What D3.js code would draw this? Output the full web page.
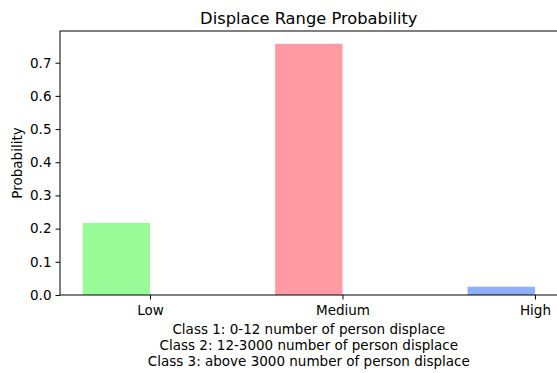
<!DOCTYPE html>
<html>
<head>
<meta charset="utf-8">
<script src="https://cdn.jsdelivr.net/npm/d3@7"></script>
<style>
  body { margin: 0; background: #fff; }
  text { font-family: "DejaVu Sans", sans-serif; fill: #000; }
</style>
</head>
<body>
<svg width="557" height="373"></svg>
<script>
var categories = ['Low', 'Medium', 'High'];
var probs = [0.217, 0.757, 0.025];
var colors = ['#98fb98', '#ff9aa2', '#8fb0f7'];
var yTicks = [0, 0.1, 0.2, 0.3, 0.4, 0.5, 0.6, 0.7];
var notes = [
  'Class 1: 0-12 number of person displace',
  'Class 2: 12-3000 number of person displace',
  'Class 3: above 3000 number of person displace'
];

var svg = d3.select('svg');
var margin = {left: 60, top: 31};
var innerHeight = 264;
var barW = 0.35;

// x positions are category index, bars sit left of the tick (edge aligned)
var xscale = d3.scaleLinear()
  .domain([-0.4675, 2.1175])
  .range([0, 497.6]);
var yscale = d3.scaleLinear()
  .domain([0, 0.7955])
  .range([innerHeight, 0]);

var g = svg.append('g').attr('transform', `translate(${margin.left},${margin.top})`);

g.selectAll('rect.bar').data(probs)
  .enter()
  .append('rect')
  .attr('class', 'bar')
  .attr('x', (d, i) => xscale(i - barW))
  .attr('y', d => yscale(d))
  .attr('width', xscale(barW) - xscale(0))
  .attr('height', d => innerHeight - yscale(d))
  .attr('fill', (d, i) => colors[i]);

// frame
g.append('rect')
  .attr('x', 0).attr('y', 0)
  .attr('width', 497.6).attr('height', innerHeight)
  .attr('fill', 'none').attr('stroke', '#000').attr('stroke-width', 1);

var yaxis = g.append('g')
  .call(d3.axisLeft(yscale).tickValues(yTicks).tickFormat(d3.format('.1f')).tickSize(4.5).tickPadding(4));
var xaxis = g.append('g')
  .attr('transform', `translate(0,${innerHeight})`)
  .call(d3.axisBottom(xscale).tickValues([0, 1, 2]).tickFormat((d, i) => categories[i]).tickSize(4.5).tickPadding(6));

[yaxis, xaxis].forEach(a => {
  a.select('.domain').remove();
  a.selectAll('text').style('font-size', '13.5px').style('font-family', '"DejaVu Sans", sans-serif').attr('fill', '#000');
  a.selectAll('line').attr('stroke', '#000');
});

svg.append('text')
  .attr('x', 308.8).attr('y', 24)
  .attr('text-anchor', 'middle')
  .style('font-size', '16.3px')
  .text('Displace Range Probability');

svg.append('text')
  .attr('transform', `translate(22,163) rotate(-90)`)
  .attr('text-anchor', 'middle')
  .style('font-size', '13.5px')
  .text('Probability');

svg.selectAll('text.note').data(notes)
  .enter()
  .append('text')
  .attr('class', 'note')
  .attr('x', 308.8)
  .attr('y', (d, i) => 334 + i * 16)
  .attr('text-anchor', 'middle')
  .style('font-size', '13.5px')
  .text(d => d);
</script>
</body>
</html>
